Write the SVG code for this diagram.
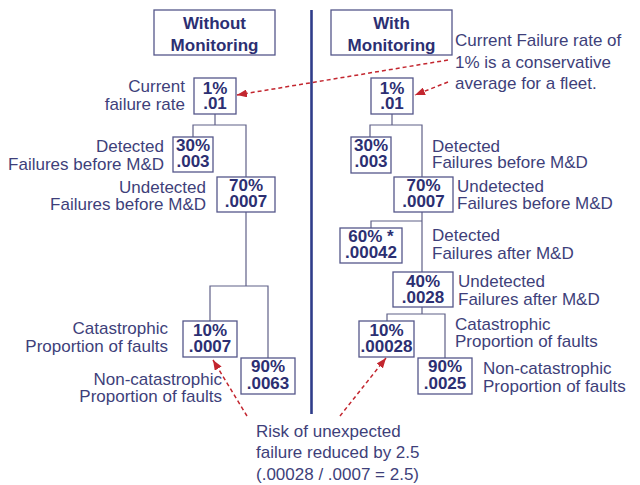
<svg xmlns="http://www.w3.org/2000/svg" width="640" height="485" viewBox="0 0 640 485">
  <style>
    text { font-family: "Liberation Sans", Arial, sans-serif; font-size: 17px; }
    .hdr { font-weight: bold; fill: #2c2f72; text-anchor: middle; }
    .val { font-weight: bold; fill: #2c2f72; text-anchor: middle; }
    .lbl { fill: #3e3f7a; }
    .end { text-anchor: end; }
    .box { fill: #ffffff; stroke: #55578a; stroke-width: 1.3; }
    .wire { fill: none; stroke: #5f6088; stroke-width: 1.2; }
    .note { fill: none; stroke: #c3262f; stroke-width: 1.5; stroke-dasharray: 4 3; }
  </style>
  <defs>
    <marker id="redHead" markerUnits="userSpaceOnUse" markerWidth="10" markerHeight="8" refX="10" refY="4" orient="auto">
      <path d="M0,0 L10,4 L0,8 Z" fill="#c3262f"/>
    </marker>
  </defs>

  <rect width="640" height="485" fill="#ffffff"/>

  <!-- divider between the two scenarios -->
  <line x1="311.5" y1="10" x2="311.5" y2="414" stroke="#2f3d8a" stroke-width="2.6"/>

  <!-- tree connectors -->
  <g id="connectors">
    <!-- without monitoring -->
    <path class="wire" d="M215,114 V125 M193,137 V125 H246 V177"/>
    <path class="wire" d="M246,212 V286 M210,321 V286 H268 V358"/>
    <!-- with monitoring -->
    <path class="wire" d="M392,114 V125 M370,137 V125 H422 V177"/>
    <path class="wire" d="M422,212 V272 M371,228 V221 H422"/>
    <path class="wire" d="M422,307 V314 M387,321 V314 H445 V358"/>
  </g>

  <!-- headers -->
  <g id="hdr-without">
    <rect class="box" x="154" y="10" width="121" height="45"/>
    <text class="hdr" x="214.5" y="29">Without</text>
    <text class="hdr" x="214.5" y="51">Monitoring</text>
  </g>
  <g id="hdr-with">
    <rect class="box" x="331" y="10" width="121" height="45"/>
    <text class="hdr" x="391.5" y="29">With</text>
    <text class="hdr" x="391.5" y="51">Monitoring</text>
  </g>

  <!-- left tree: without monitoring -->
  <g id="l-rate">
    <rect class="box" x="194" y="78" width="42" height="36"/>
    <text class="val" x="215" y="93.5">1%</text>
    <text class="val" x="215" y="109">.01</text>
    <text class="lbl end" x="185" y="91.5">Current</text>
    <text class="lbl end" x="185" y="109.5">failure rate</text>
  </g>
  <g id="l-detected">
    <rect class="box" x="173" y="137" width="40" height="35"/>
    <text class="val" x="193" y="151">30%</text>
    <text class="val" x="193" y="167">.003</text>
    <text class="lbl end" x="164" y="152">Detected</text>
    <text class="lbl end" x="164" y="170">Failures before M&amp;D</text>
  </g>
  <g id="l-undetected">
    <rect class="box" x="217" y="177" width="58" height="35"/>
    <text class="val" x="246" y="191">70%</text>
    <text class="val" x="246" y="207">.0007</text>
    <text class="lbl end" x="206" y="192.5">Undetected</text>
    <text class="lbl end" x="206" y="210">Failures before M&amp;D</text>
  </g>
  <g id="l-cat">
    <rect class="box" x="183" y="321" width="54" height="36"/>
    <text class="val" x="210" y="335.5">10%</text>
    <text class="val" x="210" y="352">.0007</text>
    <text class="lbl end" x="168" y="333.5">Catastrophic</text>
    <text class="lbl end" x="168" y="351.5">Proportion of faults</text>
  </g>
  <g id="l-noncat">
    <rect class="box" x="241" y="358" width="54" height="36"/>
    <text class="val" x="268" y="372">90%</text>
    <text class="val" x="268" y="389">.0063</text>
    <text class="lbl end" x="222" y="385">Non-catastrophic</text>
    <text class="lbl end" x="222" y="402">Proportion of faults</text>
  </g>

  <!-- right tree: with monitoring -->
  <g id="r-rate">
    <rect class="box" x="371" y="78" width="42" height="36"/>
    <text class="val" x="392" y="93.5">1%</text>
    <text class="val" x="392" y="109">.01</text>
  </g>
  <g id="r-detected">
    <rect class="box" x="351" y="137" width="40" height="36"/>
    <text class="val" x="371" y="151">30%</text>
    <text class="val" x="371" y="167">.003</text>
    <text class="lbl" x="432" y="151.5">Detected</text>
    <text class="lbl" x="432" y="168">Failures before M&amp;D</text>
  </g>
  <g id="r-undetected">
    <rect class="box" x="394" y="177" width="59" height="35"/>
    <text class="val" x="423.5" y="191">70%</text>
    <text class="val" x="423.5" y="207">.0007</text>
    <text class="lbl" x="457" y="191.5">Undetected</text>
    <text class="lbl" x="457" y="209">Failures before M&amp;D</text>
  </g>
  <g id="r-detected-md">
    <rect class="box" x="340" y="228" width="62" height="35"/>
    <text class="val" x="371" y="242">60% *</text>
    <text class="val" x="371" y="258">.00042</text>
    <text class="lbl" x="432" y="240.5">Detected</text>
    <text class="lbl" x="432" y="258.5">Failures after M&amp;D</text>
  </g>
  <g id="r-undetected-md">
    <rect class="box" x="393" y="272" width="60" height="35"/>
    <text class="val" x="423" y="287">40%</text>
    <text class="val" x="423" y="303">.0028</text>
    <text class="lbl" x="458" y="287">Undetected</text>
    <text class="lbl" x="458" y="304.5">Failures after M&amp;D</text>
  </g>
  <g id="r-cat">
    <rect class="box" x="359" y="321" width="55" height="36"/>
    <text class="val" x="386.5" y="335.5">10%</text>
    <text class="val" x="386.5" y="352">.00028</text>
    <text class="lbl" x="455" y="329.5">Catastrophic</text>
    <text class="lbl" x="455" y="346.5">Proportion of faults</text>
  </g>
  <g id="r-noncat">
    <rect class="box" x="418" y="358" width="54" height="36"/>
    <text class="val" x="445" y="372">90%</text>
    <text class="val" x="445" y="389">.0025</text>
    <text class="lbl" x="483" y="374">Non-catastrophic</text>
    <text class="lbl" x="483" y="391.5">Proportion of faults</text>
  </g>

  <!-- callouts -->
  <g id="note-rate">
    <text class="lbl" x="455" y="46">Current Failure rate of</text>
    <text class="lbl" x="455" y="67.5">1% is a conservative</text>
    <text class="lbl" x="455" y="89">average for a fleet.</text>
  </g>
  <g id="note-risk">
    <text class="lbl" x="256" y="437">Risk of unexpected</text>
    <text class="lbl" x="256" y="458">failure reduced by 2.5</text>
    <text class="lbl" x="256" y="480">(.00028 / .0007 = 2.5)</text>
  </g>
  <g id="callout-arrows">
    <line class="note" x1="448" y1="60" x2="237" y2="95" marker-end="url(#redHead)"/>
    <line class="note" x1="448" y1="82" x2="415" y2="95" marker-end="url(#redHead)"/>
    <line class="note" x1="247" y1="416" x2="213" y2="360" marker-end="url(#redHead)"/>
    <line class="note" x1="340" y1="416" x2="386" y2="358" marker-end="url(#redHead)"/>
  </g>
</svg>
